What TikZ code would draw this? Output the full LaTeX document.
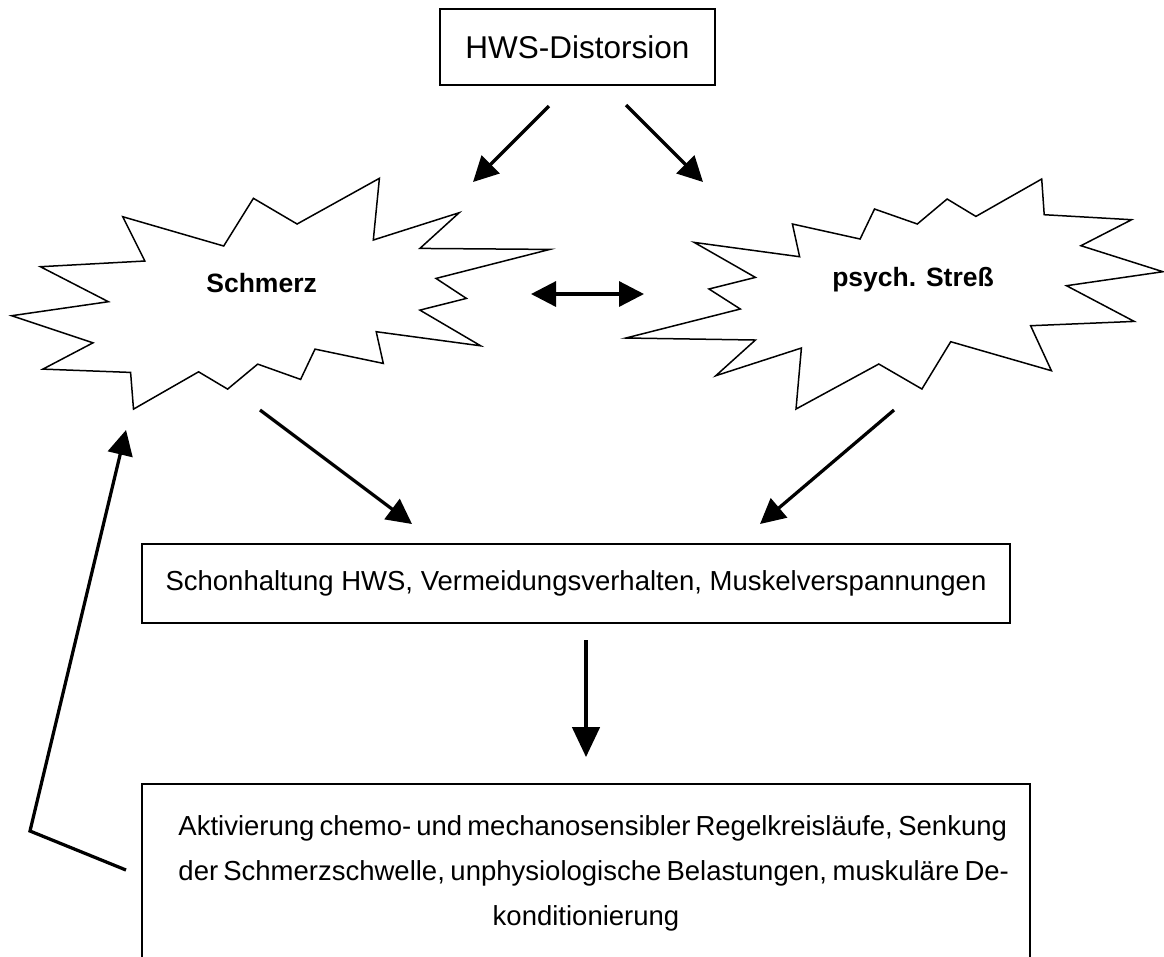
\documentclass[tikz,border=0pt]{standalone}
\usepackage{fontspec}
\setmainfont{Liberation Sans}
\usetikzlibrary{arrows.meta}

\tikzset{
  box/.style={draw, line width=0.8pt, inner sep=0pt, align=center},
  arr/.style={line width=1.3pt, -{Triangle[length=10pt,width=10pt]}},
  burst/.style={draw, line width=0.6pt, line join=miter},
  boxfont/.style={font=\fontsize{11}{18}\selectfont},
}

\begin{document}
\begin{tikzpicture}[x=0.4pt,y=-0.4pt]
\clip (0,0) rectangle (1164,956);

% boxes
\node[box, minimum width=110pt, minimum height=30.7pt, font=\fontsize{12.6}{15}\selectfont] (hws) at (577.5,47) {HWS-Distorsion};
\node[box, boxfont, minimum width=347pt, minimum height=31.6pt] (schon) at (576,583) {Schonhaltung HWS, Vermeidungsverhalten, Muskelverspannungen};
\draw[line width=0.8pt] (142,1000) -- (142,784) -- (1030,784) -- (1030,1000);
\node[boxfont, align=center] (aktiv) at (586,873) {%
  \makebox[326pt][s]{Aktivierung chemo- und mechanosensibler Regelkreisläufe, Senkung}\\
  \makebox[326pt][s]{der Schmerzschwelle, unphysiologische Belastungen, muskuläre De-}\\
  konditionierung};

% stars
\draw[burst] (122.7,216.7) -- (223.7,246.0) -- (253.4,198.3) -- (297.1,224.0) -- (379.4,178.3)
  -- (373.3,240.0) -- (459.2,212.7) -- (419.9,248.4) -- (549.8,249.4) -- (436.0,278.4)
  -- (466.4,298.4) -- (419.9,310.1) -- (480.7,345.8) -- (376.2,331.7) -- (383.3,363.4)
  -- (315.0,349.1) -- (300.6,379.4) -- (257.7,364.1) -- (227.6,389.1) -- (198.6,371.8)
  -- (133.5,409.1) -- (130.6,372.4) -- (42.9,369.1) -- (93.0,342.8) -- (11.7,315.7)
  -- (108.4,301.7) -- (40.4,266.7) -- (144.9,261.0) -- cycle;
\node[font=\fontsize{10.6}{13}\selectfont\bfseries] (schmerz) at (261.6,282.6) {Schmerz};

\draw[burst] (1041.7,179.0) -- (1044.2,214.7) -- (1131.6,219.7) -- (1080.9,245.7) -- (1162.9,271.7)
  -- (1066.5,285.7) -- (1134.2,321.4) -- (1030.6,325.7) -- (1051.4,370.7) -- (950.7,341.7)
  -- (921.9,389.0) -- (878.8,364.0) -- (796.0,409.0) -- (801.4,348.0) -- (715.8,375.7)
  -- (755.4,340.0) -- (625.9,338.0) -- (740.3,309.0) -- (709.0,289.0) -- (755.4,277.4)
  -- (694.2,242.4) -- (799.6,256.7) -- (792.4,224.0) -- (860.1,239.0) -- (874.5,209.0)
  -- (917.3,224.0) -- (947.1,199.0) -- (975.9,216.4) -- cycle;
\node[font=\fontsize{10.6}{13}\selectfont\bfseries] (stress) at (913,279.5) {psych. Streß};

% arrow ends
\coordinate (h1) at (549,106);
\coordinate (h2) at (473,182);
\coordinate (h3) at (626,105);
\coordinate (h4) at (703,182);
\coordinate (d1) at (531,294);
\coordinate (d2) at (644,294);
\coordinate (s1) at (260,410);
\coordinate (s2) at (412,524);
\coordinate (p1) at (894,410);
\coordinate (p2) at (760,524);
\coordinate (m1) at (586,640);
\coordinate (m2) at (586,757);
\coordinate (f1) at (126,870);
\coordinate (f2) at (30,831);
\coordinate (f3) at (126,430);

% arrows
\draw[arr] (h1) -- (h2);
\draw[arr] (h3) -- (h4);
\draw[arr, {Triangle[length=10pt,width=10pt]}-{Triangle[length=10pt,width=10pt]}] (d1) -- (d2);
\draw[arr] (s1) -- (s2);
\draw[arr] (p1) -- (p2);
\draw[arr, -{Triangle[length=12pt,width=11pt]}] (m1) -- (m2);
\draw[arr, line join=miter] (f1) -- (f2) -- (f3);
\end{tikzpicture}
\end{document}
